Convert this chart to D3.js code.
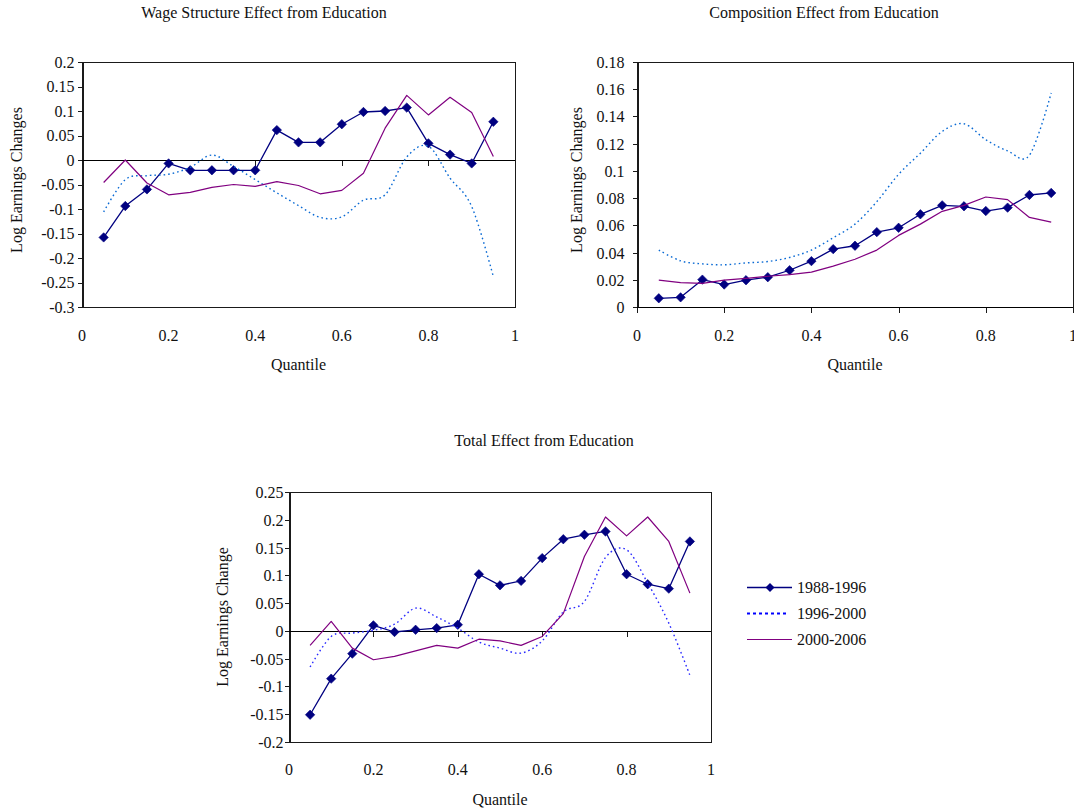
<!DOCTYPE html>
<html>
<head>
<meta charset="utf-8">
<script src="https://cdn.jsdelivr.net/npm/d3@7"></script>
<style>
  html, body { margin: 0; padding: 0; background: #fff; }
  svg { display: block; font-family: "Liberation Serif", "Times New Roman", serif; }
</style>
</head>
<body>
<svg id="chart" width="1074" height="811"></svg>
<script>
// Quantiles at which the decomposition was evaluated
const quantiles = [0.05, 0.10, 0.15, 0.20, 0.25, 0.30, 0.35, 0.40, 0.45, 0.50,
                   0.55, 0.60, 0.65, 0.70, 0.75, 0.80, 0.85, 0.90, 0.95];
const periods = ["1988-1996", "1996-2000", "2000-2006"];

// Wage structure effect from education
const wage8896 = [-0.158, -0.094, -0.060, -0.007, -0.021, -0.021, -0.021, -0.021, 0.061, 0.036,
                  0.036, 0.073, 0.098, 0.100, 0.107, 0.034, 0.011, -0.007, 0.078];
const wage9600 = [-0.106, -0.040, -0.032, -0.029, -0.015, 0.010, -0.013, -0.040, -0.067, -0.093,
                  -0.117, -0.116, -0.082, -0.071, 0.006, 0.028, -0.037, -0.095, -0.238];
const wage0006 = [-0.046, 0.000, -0.047, -0.071, -0.066, -0.056, -0.050, -0.054, -0.044, -0.052,
                  -0.069, -0.062, -0.027, 0.065, 0.132, 0.092, 0.128, 0.097, 0.007];

// Composition effect from education
const comp8896 = [0.0064, 0.0071, 0.0201, 0.0165, 0.0197, 0.0219, 0.0270, 0.0337, 0.0425, 0.0450,
                  0.0550, 0.0582, 0.0681, 0.0747, 0.0740, 0.0705, 0.0730, 0.0823, 0.0838];
const comp9600 = [0.0418, 0.0339, 0.0317, 0.0310, 0.0324, 0.0334, 0.0364, 0.0418, 0.0509, 0.0609,
                  0.0774, 0.0975, 0.1130, 0.1290, 0.1346, 0.1229, 0.1147, 0.1115, 0.1572];
const comp0006 = [0.0197, 0.0179, 0.0174, 0.0197, 0.0211, 0.0226, 0.0238, 0.0256, 0.0300, 0.0351,
                  0.0418, 0.0526, 0.0609, 0.0703, 0.0747, 0.0808, 0.0789, 0.0658, 0.0624];

// Total effect from education
const total8896 = [-0.151, -0.086, -0.041, 0.010, -0.002, 0.002, 0.005, 0.011, 0.102, 0.082,
                   0.090, 0.131, 0.165, 0.173, 0.179, 0.102, 0.084, 0.076, 0.161];
const total9600 = [-0.065, -0.010, -0.004, 0.001, 0.012, 0.041, 0.025, 0.005, -0.020, -0.031,
                   -0.040, -0.018, 0.034, 0.053, 0.132, 0.146, 0.086, 0.014, -0.080];
const total0006 = [-0.026, 0.017, -0.031, -0.052, -0.046, -0.036, -0.026, -0.031, -0.015, -0.018,
                   -0.026, -0.010, 0.031, 0.134, 0.205, 0.171, 0.205, 0.161, 0.068];

// Axis tick values
const quantileTicks = [0, 0.2, 0.4, 0.6, 0.8, 1];
const wageTicks = [-0.3, -0.25, -0.2, -0.15, -0.1, -0.05, 0, 0.05, 0.1, 0.15, 0.2];
const compTicks = [0, 0.02, 0.04, 0.06, 0.08, 0.1, 0.12, 0.14, 0.16, 0.18];
const totalTicks = [-0.2, -0.15, -0.1, -0.05, 0, 0.05, 0.1, 0.15, 0.2, 0.25];

const svg = d3.select("#chart");
const FONT = 16;

const styles = {
  "1988-1996": { color: "#000080", width: 1.3, dash: null, marker: true, smooth: false },
  "1996-2000": { color: "#0a6ad4", width: 1.4, dash: "1.6,3", marker: false, smooth: true },
  "2000-2006": { color: "#800080", width: 1.2, dash: null, marker: false, smooth: false }
};

const fmt = v => String(+v.toFixed(3));

function panel(cfg) {
  const g = svg.append("g");
  const x = d3.scaleLinear().domain([0, 1]).range([cfg.left, cfg.right]);
  const y = d3.scaleLinear().domain(cfg.domain).range([cfg.bottom, cfg.top]);

  // plot area frame
  g.append("rect")
    .attr("x", cfg.left + 0.5).attr("y", cfg.top + 0.5)
    .attr("width", cfg.right - cfg.left).attr("height", cfg.bottom - cfg.top)
    .attr("fill", "none").attr("stroke", "#1a1a1a").attr("stroke-width", 1)
    .attr("shape-rendering", "crispEdges");

  // value axis
  const yAxis = d3.axisLeft(y).tickValues(cfg.ticks).tickSize(5).tickFormat(fmt);
  const ya = g.append("g").attr("transform", `translate(${cfg.left + 0.5},0)`).call(yAxis);
  ya.select(".domain").attr("stroke", "#1a1a1a");
  ya.selectAll(".tick line").attr("stroke", "#1a1a1a");
  ya.selectAll(".tick text")
    .attr("x", -cfg.labelGap).attr("dy", "0.34em")
    .attr("font-size", FONT).attr("font-family", "Liberation Serif").attr("fill", "#111");
  ya.attr("shape-rendering", "crispEdges");

  // quantile axis crossing at zero, labels kept below the plot
  const y0 = Math.round(y(Math.max(0, cfg.domain[0]))) + 0.5;
  const xAxis = d3.axisBottom(x).tickValues(quantileTicks).tickSize(5).tickFormat(() => "");
  const xa = g.append("g").attr("transform", `translate(0,${y0})`).call(xAxis);
  xa.select(".domain").attr("stroke", "#000").attr("d", `M${cfg.left},0H${cfg.right}`);
  xa.selectAll(".tick line").attr("stroke", "#1a1a1a");
  xa.attr("shape-rendering", "crispEdges");

  g.append("g").selectAll("text").data(quantileTicks).join("text")
    .attr("x", d => x(d)).attr("y", cfg.tickBase)
    .attr("text-anchor", "middle").attr("font-size", FONT).attr("fill", "#111")
    .text(d => String(d));

  // series
  periods.forEach((p, i) => {
    const st = styles[p];
    const vals = cfg.series[i];
    const pts = quantiles.map((q, k) => [q, vals[k]]);
    const line = d3.line().x(d => x(d[0])).y(d => y(d[1]))
      .curve(st.smooth ? d3.curveCatmullRom.alpha(0) : d3.curveLinear);
    g.append("path").datum(pts)
      .attr("d", line)
      .attr("fill", "none")
      .attr("stroke", st.smooth && cfg.dotColor ? cfg.dotColor : st.color)
      .attr("stroke-width", st.width)
      .attr("stroke-dasharray", st.dash)
      .attr("stroke-linejoin", "round");
    if (st.marker) {
      const sym = d3.symbol().type(d3.symbolSquare).size(44);
      g.append("g").selectAll("path").data(pts).join("path")
        .attr("d", sym)
        .attr("transform", d => `translate(${x(d[0])},${y(d[1])}) rotate(45)`)
        .attr("fill", st.color).attr("stroke", st.color).attr("stroke-width", 0.6);
    }
  });

  // titles
  g.append("text").attr("x", cfg.titleX).attr("y", cfg.titleY)
    .attr("text-anchor", "middle").attr("font-size", FONT).attr("fill", "#111")
    .text(cfg.title);
  g.append("text").attr("x", (cfg.left + cfg.right) / 2).attr("y", cfg.xTitleY)
    .attr("text-anchor", "middle").attr("font-size", FONT).attr("fill", "#111")
    .text("Quantile");
  g.append("text")
    .attr("transform", `translate(${cfg.yTitleX},${cfg.yTitleY}) rotate(-90)`)
    .attr("text-anchor", "middle").attr("font-size", FONT).attr("fill", "#111")
    .text(cfg.yTitle);
}

panel({
  left: 82, right: 515, top: 62, bottom: 307, domain: [-0.3, 0.2], ticks: wageTicks,
  labelGap: 8, tickBase: 341, xTitleY: 370,
  title: "Wage Structure Effect from Education", titleX: 264, titleY: 18,
  yTitle: "Log Earnings Changes", yTitleX: 22, yTitleY: 180,
  series: [wage8896, wage9600, wage0006]
});

panel({
  left: 637, right: 1073, top: 62, bottom: 307, domain: [0, 0.18], ticks: compTicks,
  labelGap: 13, tickBase: 341, xTitleY: 370,
  title: "Composition Effect from Education", titleX: 824, titleY: 18,
  yTitle: "Log Earnings Changes", yTitleX: 582, yTitleY: 180,
  series: [comp8896, comp9600, comp0006]
});

panel({
  left: 289, right: 711, top: 492, bottom: 742, domain: [-0.2, 0.25], ticks: totalTicks,
  labelGap: 6, tickBase: 775, xTitleY: 805,
  title: "Total Effect from Education", titleX: 544, titleY: 446,
  yTitle: "Log Earnings Change", yTitleX: 228, yTitleY: 617,
  dotColor: "#2a2aff",
  series: [total8896, total9600, total0006]
});

// legend
const legend = svg.append("g").attr("transform", "translate(747,0)");
const legendY = [587, 613, 639];
periods.forEach((p, i) => {
  const st = styles[p];
  const row = legend.append("g").attr("transform", `translate(0,${legendY[i]})`);
  row.append("line").attr("x1", 0).attr("x2", p === "1996-2000" ? 42 : 45).attr("y1", 0.5).attr("y2", 0.5)
    .attr("stroke", p === "1996-2000" ? "#0000ff" : st.color)
    .attr("stroke-width", p === "1996-2000" ? 2.2 : st.width)
    .attr("stroke-dasharray", p === "1996-2000" ? "3,3" : null);
  if (st.marker) {
    row.append("path").attr("d", d3.symbol().type(d3.symbolSquare).size(40))
      .attr("transform", "translate(23,0.5) rotate(45)").attr("fill", st.color);
  }
  row.append("text").attr("x", 50).attr("y", 0).attr("dy", "0.35em")
    .attr("font-size", FONT).attr("fill", "#111").text(p);
});
</script>
</body>
</html>
